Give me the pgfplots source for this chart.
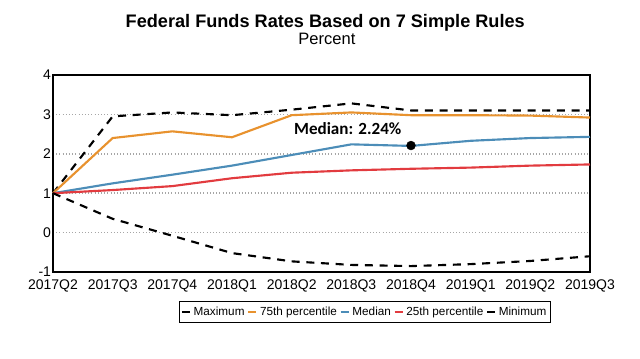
\documentclass[border=0pt]{standalone}
\usepackage{pgfplots}
\pgfplotsset{compat=1.18}
\usepackage{fontspec}
\setmainfont{Liberation Sans}
\newfontfamily\carlito{Carlito}
\definecolor{corange}{HTML}{E8922E}
\definecolor{cblue}{HTML}{4C8DB8}
\definecolor{cred}{HTML}{E23B3F}
\begin{document}
\begin{tikzpicture}
\path[use as bounding box] (-39.75pt,-64.5pt) rectangle (440.25pt,204pt);
\begin{axis}[
  scale only axis,
  width=402.75pt, height=147.75pt,
  xmin=0, xmax=9, ymin=-1, ymax=4,
  xtick={0,...,9},
  xticklabels={2017Q2,2017Q3,2017Q4,2018Q1,2018Q2,2018Q3,2018Q4,2019Q1,2019Q2,2019Q3},
  ytick={-1,0,1,2,3,4},
  major tick length=0pt,
  ticklabel style={font=\fontsize{10.5}{12}\selectfont},
  /pgf/number format/assume math mode=true,
  xticklabel style={yshift=-2.5pt},
  yticklabel style={xshift=2pt},
  axis line style={line width=1.5pt},
  ymajorgrids,
  grid style={gray!70, dotted, line width=1.2pt},
  legend columns=5,
  legend style={at={(0.581,-0.203)}, anchor=center, draw=black, line width=0.6pt,
    font=\fontsize{8.8}{10.5}\selectfont, inner xsep=1pt, inner ysep=1.8pt,
    /tikz/every even column/.append style={column sep=0pt}},
  legend image code/.code={\draw[#1, solid, line width=1.6pt] (0pt,0pt) -- (6pt,0pt);},
  legend cell align=left,
  clip=false,
]
\addplot[black, line width=1.6pt, dash pattern=on 6pt off 5pt] coordinates {
(0,1.0) (1,2.95) (2,3.05) (3,2.98) (4,3.12) (5,3.28) (6,3.1) (7,3.1) (8,3.1) (9,3.1)};
\addlegendentry{Maximum}
\addplot[corange, line width=1.6pt] coordinates {
(0,1.0) (1,2.4) (2,2.57) (3,2.42) (4,2.98) (5,3.05) (6,2.98) (7,2.98) (8,2.97) (9,2.92)};
\addlegendentry{75th percentile}
\addplot[cblue, line width=1.6pt] coordinates {
(0,1.0) (1,1.25) (2,1.47) (3,1.7) (4,1.97) (5,2.24) (6,2.2) (7,2.33) (8,2.4) (9,2.43)};
\addlegendentry{Median}
\addplot[cred, line width=1.6pt] coordinates {
(0,1.0) (1,1.08) (2,1.18) (3,1.38) (4,1.52) (5,1.58) (6,1.62) (7,1.65) (8,1.7) (9,1.73)};
\addlegendentry{25th percentile}
\addplot[black, line width=1.6pt, dash pattern=on 6pt off 5pt] coordinates {
(0,1.0) (1,0.35) (2,-0.08) (3,-0.52) (4,-0.73) (5,-0.82) (6,-0.85) (7,-0.8) (8,-0.72) (9,-0.6)};
\addlegendentry{Minimum}
\addplot[only marks, mark=*, mark size=3.3pt, black, forget plot] coordinates {(6,2.21)};
\node[font=\carlito\bfseries\fontsize{12.8}{14}\selectfont] at (axis cs:4.94,2.63) {Median: 2.24\%};
\node[anchor=base, font=\bfseries\fontsize{13.6}{15}\selectfont] at (rel axis cs:0.507,1.239) {Federal Funds Rates Based on 7 Simple Rules};
\node[anchor=base, font=\fontsize{12.4}{14}\selectfont] at (rel axis cs:0.51,1.157) {Percent};
\end{axis}
\end{tikzpicture}
\end{document}
